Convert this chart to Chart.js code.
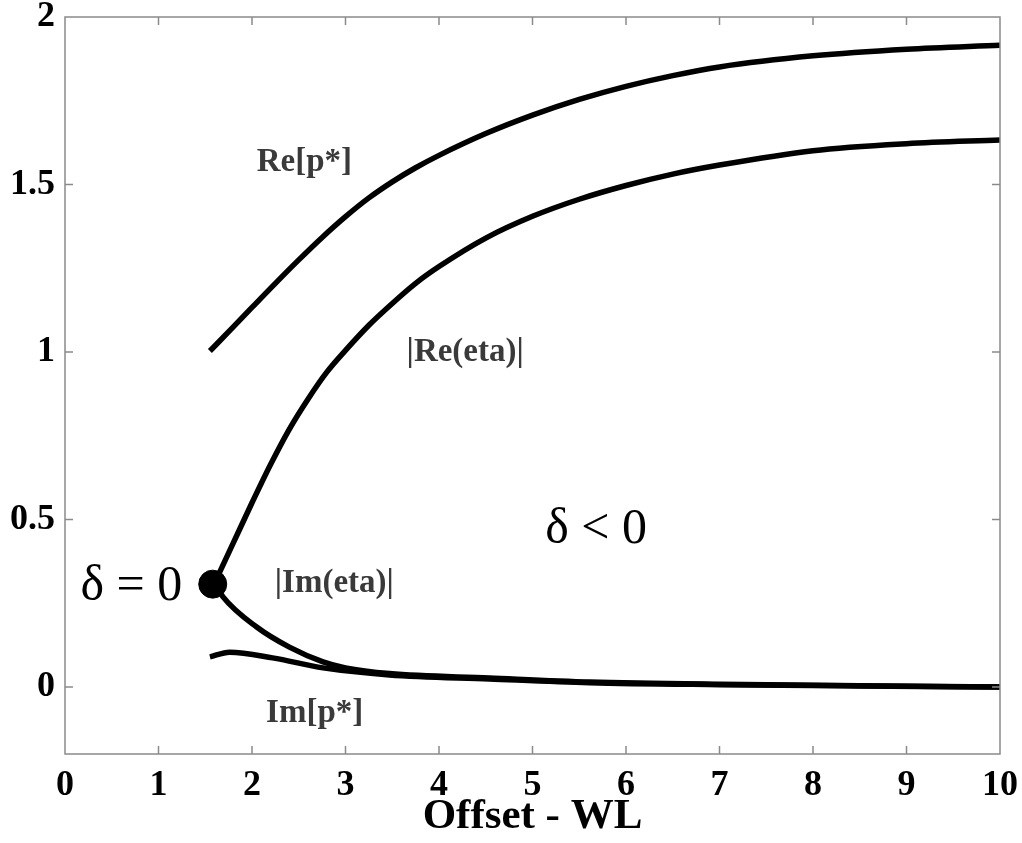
<!DOCTYPE html>
<html>
<head>
<meta charset="utf-8">
<script src="https://cdn.jsdelivr.net/npm/chart.js@4.4.1/dist/chart.umd.min.js"></script>
<style>
  html, body { margin: 0; padding: 0; background: #fff; }
  #wrap { width: 1022px; height: 843px; }
</style>
</head>
<body>
<div id="wrap"><canvas id="chart" width="1022" height="843"></canvas></div>
<script>
// ----- data -----
const xTicks = [0, 1, 2, 3, 4, 5, 6, 7, 8, 9, 10];
const yTicks = [0, 0.5, 1, 1.5, 2];

const rePx = [1.55, 1.8, 2.0, 2.25, 2.5, 2.75, 3.0, 3.25, 3.5, 3.75, 4.0, 4.5, 5.0, 5.5, 6.0, 6.5, 7.0, 8.0, 9.0, 10];
const rePy = [1.003, 1.075, 1.133, 1.205, 1.275, 1.342, 1.404, 1.46, 1.508, 1.55, 1.587, 1.652, 1.707, 1.754, 1.793, 1.825, 1.851, 1.884, 1.904, 1.916];

const reEtaX = [1.6, 1.8, 2.0, 2.2, 2.4, 2.6, 2.8, 3.0, 3.25, 3.5, 3.75, 4.0, 4.5, 5.0, 5.5, 6.0, 6.5, 7.0, 8.0, 9.0, 10];
const reEtaY = [0.31, 0.43, 0.55, 0.665, 0.77, 0.86, 0.94, 1.005, 1.08, 1.145, 1.205, 1.255, 1.34, 1.405, 1.456, 1.497, 1.531, 1.558, 1.601, 1.622, 1.633];

const imEtaX = [1.6, 1.69, 2.05, 2.40, 2.76, 3.0, 3.47, 4.54, 5.61, 7, 8.5, 10];
const imEtaY = [0.31, 0.269, 0.179, 0.119, 0.075, 0.057, 0.04, 0.027, 0.015, 0.008, 0.004, 0.0];

const imPx = [1.55, 1.76, 2.22, 2.76, 3.47, 4.54, 5.61, 7, 8.5, 10];
const imPy = [0.090, 0.104, 0.087, 0.057, 0.036, 0.024, 0.013, 0.007, 0.003, 0.0];

const branchX = [1.58];
const branchY = [0.307];

// ----- text labels in the plot -----
const notes = [
  { text: 'Re[p*]',    x: 2.56, y: 1.567, font: 'bold 33px "Liberation Serif"', color: '#3a3a3a' },
  { text: '|Re(eta)|', x: 4.28, y: 1.0,   font: 'bold 33px "Liberation Serif"', color: '#3a3a3a' },
  { text: '|Im(eta)|', x: 2.88, y: 0.31,  font: 'bold 33px "Liberation Serif"', color: '#3a3a3a' },
  { text: 'Im[p*]',    x: 2.67, y: -0.078, font: 'bold 33px "Liberation Serif"', color: '#3a3a3a' },
  { text: 'δ = 0',     x: 0.71, y: 0.30,  font: '50px "Liberation Serif"', color: '#000' },
  { text: 'δ < 0',     x: 5.68, y: 0.47,  font: '50px "Liberation Serif"', color: '#000' }
];

function pts(xs, ys) {
  return xs.map((x, i) => ({ x: x, y: ys[i] }));
}

function curve(label, xs, ys) {
  return {
    label: label,
    data: pts(xs, ys),
    borderColor: '#000',
    borderWidth: 5.5,
    pointRadius: 0,
    cubicInterpolationMode: 'monotone',
    fill: false
  };
}

// box round the plot with ticks pointing inwards, and the text labels
const framePlugin = {
  id: 'frame',
  afterDatasetsDraw(chart) {
    const ctx = chart.ctx;
    const a = chart.chartArea;
    const xs = chart.scales.x;
    const ys = chart.scales.y;
    ctx.save();
    ctx.strokeStyle = '#8a8a8a';
    ctx.lineWidth = 1.5;
    ctx.strokeRect(a.left, a.top, a.right - a.left, a.bottom - a.top);
    ctx.beginPath();
    xTicks.slice(1, -1).forEach(v => {
      const px = xs.getPixelForValue(v);
      ctx.moveTo(px, a.bottom); ctx.lineTo(px, a.bottom - 8);
      ctx.moveTo(px, a.top); ctx.lineTo(px, a.top + 8);
    });
    yTicks.slice(0, -1).forEach(v => {
      const py = ys.getPixelForValue(v);
      ctx.moveTo(a.left, py); ctx.lineTo(a.left + 8, py);
      ctx.moveTo(a.right, py); ctx.lineTo(a.right - 8, py);
    });
    ctx.stroke();

    ctx.textAlign = 'center';
    ctx.textBaseline = 'middle';
    notes.forEach(n => {
      ctx.font = n.font;
      ctx.fillStyle = n.color;
      ctx.fillText(n.text, xs.getPixelForValue(n.x), ys.getPixelForValue(n.y));
    });
    ctx.restore();
  }
};

const data_chart = {
  datasets: [
    curve('Re[p*]', rePx, rePy),
    curve('|Re(eta)|', reEtaX, reEtaY),
    curve('|Im(eta)|', imEtaX, imEtaY),
    curve('Im[p*]', imPx, imPy),
    {
      label: 'delta = 0',
      data: pts(branchX, branchY),
      showLine: false,
      pointRadius: 14,
      pointBackgroundColor: '#000',
      pointBorderColor: '#000'
    }
  ]
};

const config_chart = {
  type: 'line',
  data: data_chart,
  options: {
    responsive: false,
    devicePixelRatio: 1,
    animation: false,
    layout: { padding: { top: 17, right: 22, left: 0, bottom: 0 } },
    plugins: {
      legend: { display: false },
      tooltip: { enabled: false }
    },
    scales: {
      x: {
        type: 'linear',
        min: 0,
        max: 10,
        grid: { display: false, drawTicks: false },
        border: { display: false },
        afterBuildTicks: s => { s.ticks = xTicks.map(v => ({ value: v })); },
        afterFit: s => {
          s.height = 89;
          s.paddingLeft = 0; s.paddingRight = 0;
        },
        ticks: {
          padding: 10,
          color: '#000',
          maxRotation: 0,
          font: { family: '"Liberation Serif"', size: 36, weight: 'bold' },
          callback: v => String(v)
        },
        title: {
          display: true,
          text: 'Offset - WL',
          color: '#000',
          padding: { top: 0, bottom: 0 },
          font: { family: '"Liberation Serif"', size: 43, weight: 'bold' }
        }
      },
      y: {
        type: 'linear',
        min: -0.2,
        max: 2,
        grid: { display: false, drawTicks: false },
        border: { display: false },
        afterBuildTicks: s => { s.ticks = yTicks.map(v => ({ value: v })); },
        afterFit: s => {
          s.width = 65;
          s.paddingTop = 0; s.paddingBottom = 0;
        },
        ticks: {
          padding: 10,
          color: '#000',
          font: { family: '"Liberation Serif"', size: 36, weight: 'bold' },
          callback: v => String(v)
        }
      }
    }
  },
  plugins: [framePlugin]
};

var chart = new Chart(document.getElementById('chart'), config_chart);
</script>
</body>
</html>
